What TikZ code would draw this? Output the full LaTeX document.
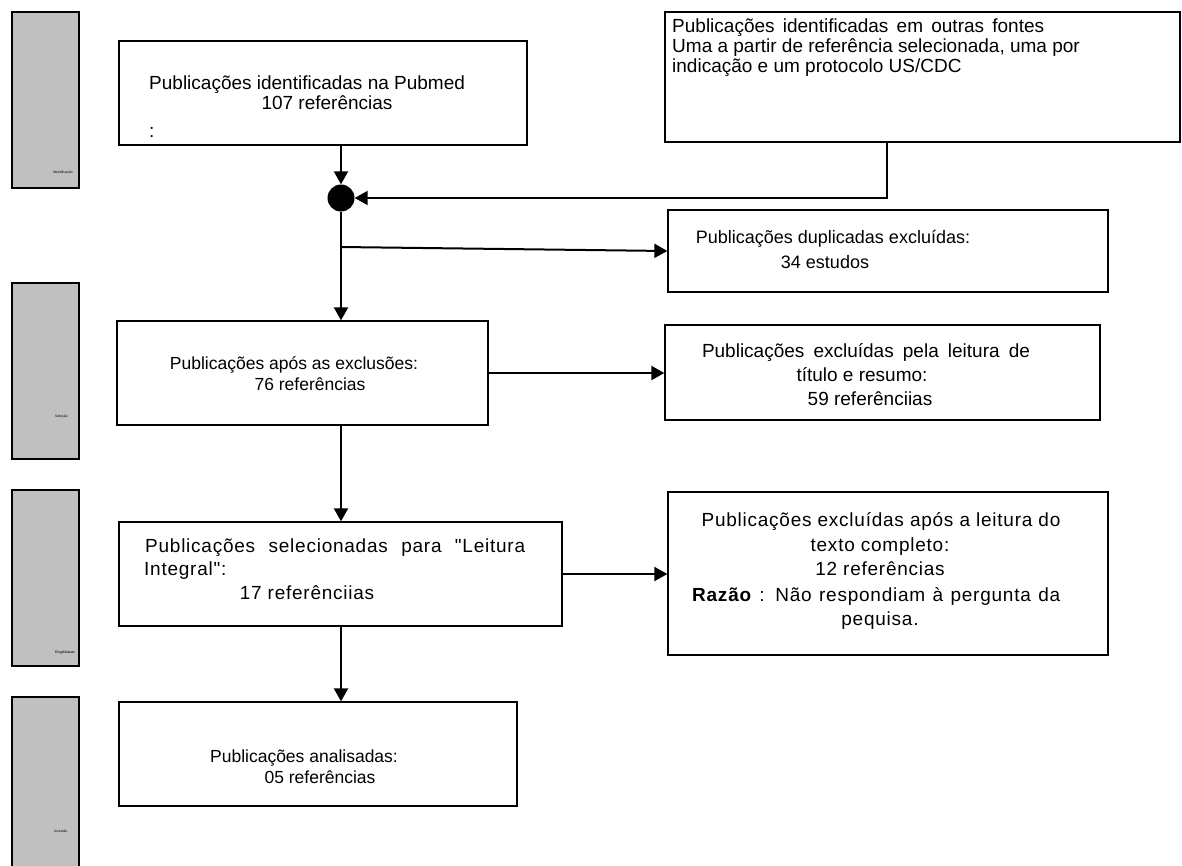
\documentclass[tikz,border=0pt]{standalone}
\usepackage{fontspec}
\newfontfamily\lib{Liberation Sans}
\usetikzlibrary{arrows.meta}
\definecolor{barg}{RGB}{192,192,192}
\begin{document}
\begin{tikzpicture}[x=1pt,y=-1pt,
  box/.style={draw, line width=1.3pt, inner sep=0pt, fill=white, rectangle},
  sidebar/.style={draw, line width=2pt, fill=barg, inner sep=0pt, rectangle, minimum width=67pt, minimum height=176pt},
  conn/.style={line width=2pt, -{Triangle[length=13pt,width=14pt]}},
  txt/.style={inner sep=0pt, text height=14pt, text depth=4pt, font=\lib\fontsize{19}{22}\selectfont},
  wtxt/.style={txt, font=\lib\fontsize{19}{22}\selectfont\addfontfeature{LetterSpace=4}},
  stxt/.style={txt, font=\lib\fontsize{17.5}{21}\selectfont},
  tiny/.style={inner sep=0pt, anchor=west, font=\lib\fontsize{3.5}{4}\selectfont}]
\useasboundingbox (0,0) rectangle (1182,865);
\fill[white] (0,0) rectangle (1182,865);
% side bars
\node[sidebar] (s1) at (45.5,100) {};
\node[sidebar] (s2) at (45.5,371) {};
\node[sidebar] (s3) at (45.5,578) {};
\node[sidebar, minimum height=190pt] (s4) at (45.5,792) {};
\node[tiny] (s1t) at (53,173) {Identificação};
\node[tiny] (s2t) at (55,417) {Seleção};
\node[tiny] (s3t) at (55,653) {Elegibilidade};
\node[tiny] (s4t) at (54,831) {Inclusão};
% boxes
\node[box, minimum width=408pt, minimum height=104pt] (b1) at (323,93) {};
\node[box, minimum width=515pt, minimum height=130pt] (b2) at (922.5,77) {};
\node[box, minimum width=440pt, minimum height=82pt] (dup) at (888,251) {};
\node[box, minimum width=371pt, minimum height=104pt] (b3) at (302.5,373) {};
\node[box, minimum width=435pt, minimum height=95pt] (ex1) at (882.5,372.5) {};
\node[box, minimum width=443pt, minimum height=104pt] (b4) at (340.5,574) {};
\node[box, minimum width=440pt, minimum height=163pt] (ex2) at (888,573.5) {};
\node[box, minimum width=398pt, minimum height=104pt] (b5) at (318,754) {};
\node[circle, fill=black, minimum size=27pt, inner sep=0pt] (c) at (341,198) {};
% texts
\node[txt, anchor=west] (t1a) at (149,84) {Publicações identificadas na Pubmed};
\node[txt] (t1b) at (327,104) {107 referências};
\node[txt, anchor=west] (t1c) at (149,132) {:};
\node[txt, anchor=west] (t2a) at (672,27) {\makebox[372pt][s]{Publicações identificadas em outras fontes}};
\node[txt, anchor=west] (t2b) at (672,47) {Uma a partir de referência selecionada, uma por};
\node[txt, anchor=west] (t2c) at (672,67) {indicação e um protocolo US/CDC};
\node[txt, font=\lib\fontsize{18}{21}\selectfont] (tda) at (833,238) {Publicações duplicadas excluídas:};
\node[txt, font=\lib\fontsize{18}{21}\selectfont] (tdb) at (825,263) {34 estudos};
\node[stxt] (t3a) at (294,364) {Publicações após as exclusões:};
\node[stxt] (t3b) at (310,385) {76 referências};
\node[txt] (te1a) at (866,352) {\makebox[328pt][s]{Publicações excluídas pela leitura de}};
\node[txt] (te1b) at (862,376) {título e resumo:};
\node[txt] (te1c) at (870,400) {59 referênciias};
\node[wtxt, anchor=west] (t4a) at (145,547) {\makebox[380pt][s]{Publicações selecionadas para "Leitura}};
\node[wtxt, anchor=west] (t4b) at (144,570) {Integral":};
\node[wtxt] (t4c) at (307,594) {17 referênciias};
\node[wtxt] (te2a) at (881,521) {Publicações excluídas após a leitura do};
\node[wtxt] (te2b) at (880,546) {texto completo:};
\node[wtxt] (te2c) at (880,570) {12 referências};
\node[wtxt, anchor=west] (te2d) at (692,596) {\makebox[368pt][s]{\textbf{Razão} : Não respondiam à pergunta da}};
\node[wtxt] (te2e) at (880,620) {pequisa.};
\node[stxt] (t5a) at (304,757) {Publicações analisadas:};
\node[stxt] (t5b) at (320,778) {05 referências};
% connectors
\coordinate (k2) at (887,198);
\coordinate (br) at (341,247);
\draw[conn] (c |- b1.south) -- (c.north);
\draw[conn] (b2.south -| k2) -- (k2) -- (c.east);
\draw[conn] (c.south) -- (c |- b3.north);
\draw[conn] (br) -- (dup.west);
\draw[conn] (b3.east) -- (b3.east -| ex1.west);
\draw[conn] (c |- b3.south) -- (c |- b4.north);
\draw[conn] (b4.east) -- (b4.east -| ex2.west);
\draw[conn] (c |- b4.south) -- (c |- b5.north);
\end{tikzpicture}
\end{document}
